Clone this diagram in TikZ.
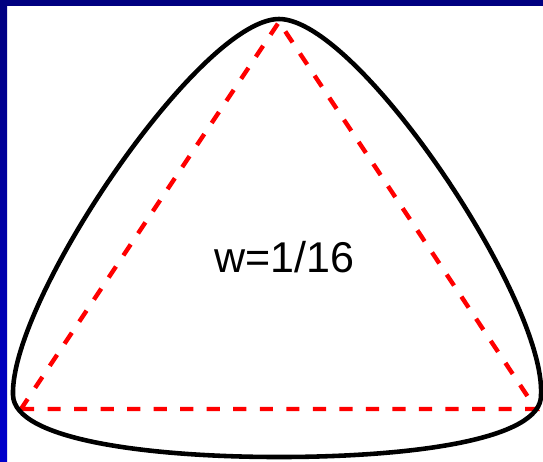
\documentclass[tikz,border=0pt]{standalone}
\usepackage{fontspec}
\setmainfont{Liberation Sans}
\usetikzlibrary{calc}
\definecolor{navy}{RGB}{0,0,128}
\definecolor{brightblue}{RGB}{0,0,204}

\begin{document}
\begin{tikzpicture}[x=0.02cm,y=-0.02cm,
    curve/.style={line width=2.6pt,line join=round},
    chord/.style={red,line width=2.5pt,dash pattern=on 7.5pt off 7.6pt}]
  \useasboundingbox (0,0) rectangle (543,461);
  % frame of the slide
  \fill[white] (0,0) rectangle (543,461);
  \shade[top color=navy,bottom color=brightblue] (0,0) rectangle (7,461);
  \fill[navy] (0,0) rectangle (543,6);
  % control triangle
  \coordinate (tp) at (279,22);
  \coordinate (lf) at (21,409);
  \coordinate (rt) at (536,409);
  \draw[chord] (lf) -- (rt) -- (tp) -- cycle;
  % closed curve
  \draw[curve] (279,19) .. controls (200,19) and (10,300) .. (13,395)
    .. controls (14,440) and (150,457) .. (279,457)
    .. controls (410,457) and (542,440) .. (541,395)
    .. controls (546,300) and (358,19) .. (279,19) -- cycle;
  \node[font=\fontsize{24.5}{29}\selectfont] (wlabel) at (284,257) {w=1/16};
\end{tikzpicture}
\end{document}
